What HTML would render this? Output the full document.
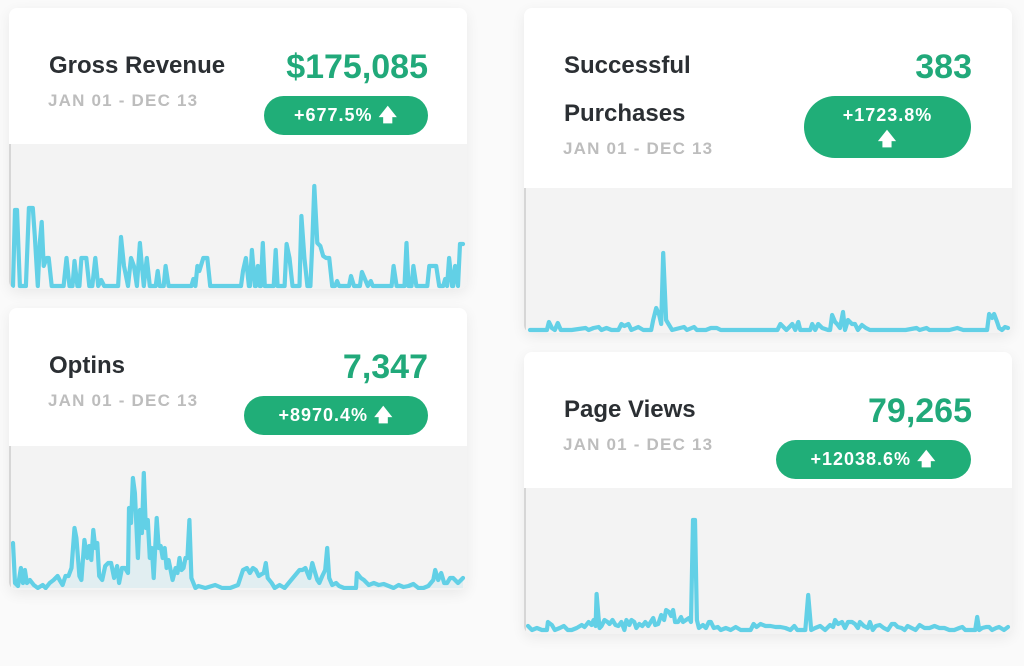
<!DOCTYPE html>
<html><head><meta charset="utf-8"><style>
body{margin:0;width:1024px;height:666px;background:#fafafa;font-family:"Liberation Sans",sans-serif;position:relative;overflow:hidden}
.card{position:absolute;background:#fff;border-radius:8px;box-shadow:0 4px 14px rgba(0,0,0,.07);overflow:hidden}
.abs{position:absolute;white-space:nowrap}
.title{font-size:24px;font-weight:bold;color:#2b2f33}
.date{font-size:17px;font-weight:bold;color:#bdbdbd;letter-spacing:1.2px}
.val{font-size:34px;font-weight:bold;color:#21a97a;text-align:right}
.badge{background:#20ae78;color:#fff;font-size:18px;font-weight:bold;border-radius:21px;text-align:center;letter-spacing:1px}
.chart{position:absolute;left:0;background:#f3f3f3;border-left:2px solid #d6d6d6}
svg{position:absolute;left:0;top:0}
</style></head><body>

<div class="card" style="left:9px;top:8px;width:458px;height:281px">
 <div class="abs title" style="left:40px;top:44px">Gross Revenue</div>
 <div class="abs date" style="left:39px;top:83px">JAN 01 - DEC 13</div>
 <div class="abs val" style="right:39px;top:40px">$175,085</div>
 <div class="abs badge" style="left:255px;top:88px;width:164px;height:39px;line-height:39px">+677.5% 🡅</div>
 <div class="chart" style="top:136px;width:456px;height:145px"><svg id="c1" width="456" height="145"></svg></div>
</div>

<div class="card" style="left:9px;top:308px;width:458px;height:282px">
 <div class="abs title" style="left:40px;top:44px">Optins</div>
 <div class="abs date" style="left:39px;top:83px">JAN 01 - DEC 13</div>
 <div class="abs val" style="right:39px;top:40px">7,347</div>
 <div class="abs badge" style="left:235px;top:88px;width:184px;height:39px;line-height:39px">+8970.4% 🡅</div>
 <div class="chart" style="top:138px;width:456px;height:144px"><svg id="c2" width="456" height="144"></svg></div>
</div>

<div class="card" style="left:524px;top:8px;width:488px;height:325px">
 <div class="abs title" style="left:40px;top:44px">Successful</div>
 <div class="abs title" style="left:40px;top:92px">Purchases</div>
 <div class="abs date" style="left:39px;top:131px">JAN 01 - DEC 13</div>
 <div class="abs val" style="right:40px;top:40px">383</div>
 <div class="abs badge" style="left:280px;top:88px;width:167px;height:62px;line-height:24px;padding-top:7px;box-sizing:border-box;border-radius:31px">+1723.8%<br>🡅</div>
 <div class="chart" style="top:180px;width:486px;height:145px"><svg id="c3" width="486" height="145"></svg></div>
</div>

<div class="card" style="left:524px;top:352px;width:488px;height:282px">
 <div class="abs title" style="left:40px;top:44px">Page Views</div>
 <div class="abs date" style="left:39px;top:83px">JAN 01 - DEC 13</div>
 <div class="abs val" style="right:40px;top:40px">79,265</div>
 <div class="abs badge" style="left:252px;top:88px;width:195px;height:39px;line-height:39px">+12038.6% 🡅</div>
 <div class="chart" style="top:136px;width:486px;height:146px"><svg id="c4" width="486" height="146"></svg></div>
</div>

<script>
const revT=[11,13,15,18,24,27,31,33,36,38,40,42,45,47,50,62,65,68,71,73,76,78,80,85,88,91,94,97,100,103,117,120,123,127,130,133,136,139,141,143,146,149,155,157,159,163,165,168,191,193,195,197,199,203,207,210,241,243,246,249,250,252,255,256,258,260,261,263,265,274,276,278,285,287,290,293,300,302,305,308,311,313,315,318,321,324,327,330,333,336,338,340,350,352,355,361,363,366,369,372,374,393,395,398,406,408,410,413,415,418,429,431,438,441,445,447,449,451,454,455,457,460,462,465];
const revV=[0,76,76,0,0,78,78,50,0,43,64,20,28,28,0,0,28,0,0,25,0,0,28,28,0,0,28,0,6,0,0,49,20,0,28,20,0,43,20,0,28,0,0,15,0,0,20,0,0,7,0,20,15,28,28,0,0,15,28,0,0,36,0,0,20,0,0,43,0,0,36,0,0,42,28,0,0,70,28,0,0,43,100,43,40,30,28,28,0,0,5,0,0,10,0,0,14,7,0,5,0,0,20,0,0,43,0,0,20,0,0,20,20,0,0,7,0,28,0,0,20,0,42,42];
const optT=[11,13,16,19,21,23,25,28,32,36,41,44,48,52,56,58,61,64,67,70,73,75,78,80,83,86,88,90,92,94,96,98,101,104,107,110,113,116,118,121,124,127,128,130,132,134,137,139,141,143,145,147,149,151,153,156,158,160,162,164,166,168,170,172,175,177,179,181,183,185,187,189,191,193,195,198,205,215,222,230,238,243,247,250,253,256,259,262,264,266,268,272,275,280,285,290,295,300,303,306,310,313,315,318,320,323,326,328,330,333,337,340,345,352,357,358,362,365,370,375,380,385,390,395,400,405,410,415,420,425,430,435,437,440,443,446,449,452,455,460,465];
const optV=[45,5,2,20,5,18,5,8,3,0,3,0,5,8,12,8,3,12,12,20,60,50,12,8,48,30,42,28,58,40,45,12,8,22,25,25,10,22,5,20,20,15,80,65,110,95,30,78,55,115,60,68,30,40,10,70,40,42,30,40,20,28,18,8,20,15,30,18,20,30,30,68,10,5,0,2,0,3,0,0,3,18,20,15,20,18,12,14,15,25,10,5,0,3,0,6,12,18,18,20,10,25,18,8,5,12,18,40,10,3,5,2,0,0,0,15,10,8,3,5,3,4,2,0,3,1,2,4,0,0,2,8,18,8,15,5,5,10,10,5,10];
const purT=[528,535,545,547,550,553,556,559,565,570,584,587,592,597,600,605,610,617,620,623,627,630,637,642,650,652,655,658,660,662,665,668,671,683,686,693,696,705,710,716,720,730,742,748,777,780,783,786,789,792,795,798,800,808,810,812,815,818,822,828,830,832,835,837,840,843,845,848,852,855,858,862,866,870,874,880,888,893,906,917,920,927,930,940,950,958,964,986,988,990,993,995,998,1000,1003,1006,1009];
const purV=[0,0,0,8,2,0,7,0,0,0,2,0,2,3,0,2,0,0,6,4,6,0,3,0,0,10,22,15,6,77,10,5,0,3,0,3,0,0,2,2,0,0,0,0,0,6,3,0,3,6,0,8,0,0,0,6,0,6,2,0,0,15,8,6,2,18,0,10,6,6,0,5,2,0,0,0,0,0,0,2,0,2,0,0,0,2,0,0,0,16,12,16,8,2,0,3,2];
const pvT=[526,530,535,540,545,546,550,553,558,562,566,570,575,580,583,587,590,592,594,595,597,598,600,603,606,608,611,614,617,620,623,625,628,630,633,635,638,641,644,647,652,654,657,660,663,665,668,670,672,674,677,680,682,685,688,690,692,694,696,698,702,705,708,710,713,717,720,725,730,735,740,745,750,753,756,760,765,770,775,780,785,790,794,797,805,808,811,815,820,825,830,833,835,838,842,845,848,852,855,858,860,864,868,870,873,876,880,884,888,892,895,898,902,905,908,912,916,920,925,930,935,940,945,950,955,960,963,966,976,978,980,983,987,990,993,997,1000,1005,1009];
const pvV=[4,0,2,0,0,8,5,0,2,4,0,0,2,5,3,8,5,10,4,36,12,2,4,10,8,6,10,5,4,8,0,10,5,10,8,2,6,4,8,4,12,5,6,15,10,20,18,14,20,8,8,13,8,10,12,8,110,110,10,2,5,2,8,8,2,3,0,2,0,3,0,0,0,6,3,6,4,4,3,3,2,0,4,0,0,35,0,2,4,0,5,3,10,6,8,2,8,8,6,2,8,4,2,8,0,4,5,2,0,6,6,3,2,0,4,2,0,5,2,2,4,2,2,0,0,2,3,0,0,13,0,2,3,3,0,2,3,0,3];

function draw(id,T,V,tMin,tMax,vMax,w,h,base,top,fill){
  const svg=document.getElementById(id);
  const ns='http://www.w3.org/2000/svg';
  const x=t=>2+(t-tMin)/(tMax-tMin)*(w-6);
  const y=v=>base-(v/vMax)*(base-top);
  let d=T.map((t,i)=>(i?'L':'M')+x(t).toFixed(1)+' '+y(V[i]).toFixed(1)).join(' ');
  if(fill){
    const a=document.createElementNS(ns,'path');
    a.setAttribute('d',d+' L'+x(T[T.length-1])+' '+base+' L'+x(T[0])+' '+base+' Z');
    a.setAttribute('fill','rgba(95,208,230,0.12)');
    
    
    svg.appendChild(a);
  }
  const p=document.createElementNS(ns,'path');
  p.setAttribute('d',d);
  p.setAttribute('fill','none');
  p.setAttribute('stroke','#62d0e6');
  p.setAttribute('stroke-width','4.2');
  p.setAttribute('stroke-linejoin','round');
  p.setAttribute('stroke-linecap','round');
  
  
  svg.appendChild(p);
}
draw('c1',revT,revV,11,465,100,456,145,142,42,false);
draw('c2',optT,optV,11,465,115,456,144,142,27,true);
draw('c3',purT,purV,526,1009,77,486,145,142,65,false);
draw('c4',pvT,pvV,526,1009,110,486,146,142,32,false);
</script>
</body></html>
